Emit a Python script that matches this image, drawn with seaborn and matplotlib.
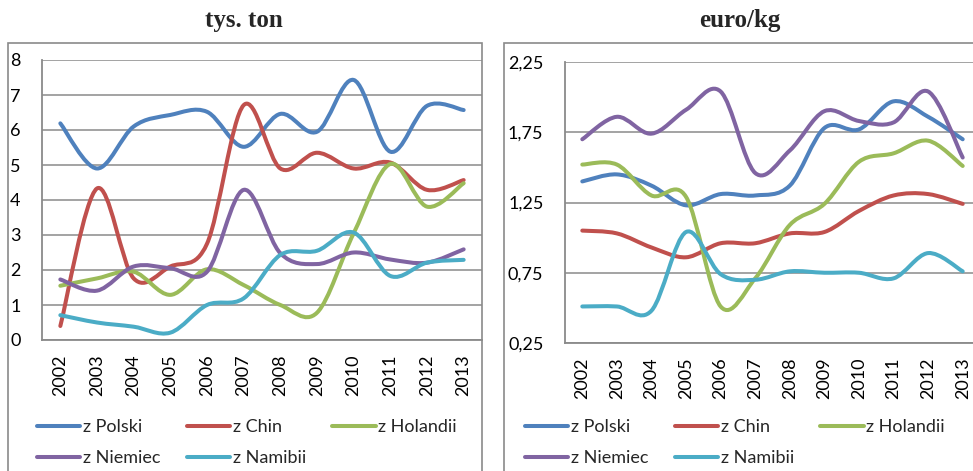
import numpy as np
import pandas as pd
import seaborn as sns
import matplotlib
matplotlib.use("Agg")
import matplotlib.pyplot as plt
from matplotlib.path import Path
from matplotlib.patches import PathPatch, Rectangle
from matplotlib.lines import Line2D

# Data
years = ["2002", "2003", "2004", "2005", "2006", "2007",
         "2008", "2009", "2010", "2011", "2012", "2013"]
series_names = ["z Polski", "z Chin", "z Holandii", "z Niemiec", "z Namibii"]

# left panel: tys. ton
ton_polski = [6.19, 4.90, 6.10, 6.43, 6.52, 5.52, 6.46, 5.95, 7.43, 5.38, 6.69, 6.57]
ton_chin = [0.40, 4.33, 1.76, 2.10, 2.75, 6.71, 4.90, 5.35, 4.90, 5.07, 4.29, 4.57]
ton_holandii = [1.55, 1.76, 1.95, 1.29, 2.02, 1.57, 1.00, 0.78, 3.05, 5.03, 3.81, 4.48]
ton_niemiec = [1.73, 1.41, 2.10, 2.05, 1.95, 4.29, 2.48, 2.17, 2.50, 2.30, 2.21, 2.59]
ton_namibii = [0.71, 0.50, 0.38, 0.21, 1.00, 1.19, 2.43, 2.55, 3.07, 1.83, 2.21, 2.29]

# right panel: euro/kg
eur_polski = [1.40, 1.45, 1.37, 1.23, 1.31, 1.30, 1.37, 1.78, 1.77, 1.97, 1.86, 1.70]
eur_chin = [1.05, 1.03, 0.93, 0.86, 0.96, 0.96, 1.03, 1.04, 1.19, 1.30, 1.31, 1.24]
eur_holandii = [1.52, 1.52, 1.30, 1.29, 0.51, 0.71, 1.09, 1.24, 1.54, 1.60, 1.69, 1.51]
eur_niemiec = [1.70, 1.86, 1.74, 1.91, 2.04, 1.46, 1.62, 1.90, 1.83, 1.82, 2.04, 1.57]
eur_namibii = [0.51, 0.51, 0.48, 1.04, 0.74, 0.70, 0.76, 0.75, 0.75, 0.71, 0.89, 0.76]

ton_ticks = [0, 1, 2, 3, 4, 5, 6, 7, 8]
ton_labels = ["0", "1", "2", "3", "4", "5", "6", "7", "8"]
eur_ticks = [0.25, 0.75, 1.25, 1.75, 2.25]
eur_labels = ["0,25", "0,75", "1,25", "1,75", "2,25"]

ton = pd.DataFrame(dict(zip(series_names, [ton_polski, ton_chin, ton_holandii, ton_niemiec, ton_namibii])), index=years)
eur = pd.DataFrame(dict(zip(series_names, [eur_polski, eur_chin, eur_holandii, eur_niemiec, eur_namibii])), index=years)

sns.set_theme(style="white")
plt.rcParams["font.family"] = ["Lato", "DejaVu Sans"]
colors = sns.color_palette(["#4F81BD", "#C0504D", "#9BBB59", "#8064A2", "#4BACC6"])
GRAY = "#8a8a8a"
LW = 2.9


def smooth_path(y):
    # Excel-like smoothed line: cubic bezier through every point
    x = np.arange(len(y), dtype=float)
    y = np.asarray(y, dtype=float)
    pts = np.column_stack([x, y])
    verts = [pts[0]]
    codes = [Path.MOVETO]
    n = len(pts)
    for i in range(n - 1):
        p_prev = pts[i - 1] if i > 0 else pts[i]
        p_next2 = pts[i + 2] if i + 2 < n else pts[i + 1]
        c1 = pts[i] + (pts[i + 1] - p_prev) / 6
        c2 = pts[i + 1] - (p_next2 - pts[i]) / 6
        verts += [c1, c2, pts[i + 1]]
        codes += [Path.CURVE4] * 3
    return Path(verts, codes)


def draw_panel(ax, df, ticks, labels):
    for name, c in zip(series_names, colors):
        patch = PathPatch(smooth_path(df[name].values), fill=False, ec=c, lw=LW,
                          capstyle="round", joinstyle="round", zorder=3)
        ax.add_patch(patch)
    ax.set_xlim(-0.5, len(years) - 0.5)
    ax.set_ylim(ticks[0], ticks[-1])
    ax.set_xticks(range(len(years)))
    ax.set_xticklabels(years, rotation=90, fontsize=13)
    ax.set_yticks(ticks)
    ax.set_yticklabels(labels, fontsize=13)
    ax.tick_params(axis="y", length=0, pad=15.5, colors="black")
    ax.tick_params(axis="x", length=0, pad=10.5, colors="black")
    ax.yaxis.grid(True, color=GRAY, lw=1.1)
    ax.set_axisbelow(True)
    for s in ["top", "right"]:
        ax.spines[s].set_visible(False)
    for s in ["left", "bottom"]:
        ax.spines[s].set_color(GRAY)
        ax.spines[s].set_linewidth(1.3)


fig = plt.figure(figsize=(9.73, 4.71), dpi=100)
W, H = 973, 471

ax1 = fig.add_axes([42 / W, 1 - 340 / H, 440 / W, 280 / H])
ax2 = fig.add_axes([565 / W, 1 - 343 / H, 415 / W, 281 / H])
draw_panel(ax1, ton, ton_ticks, ton_labels)
draw_panel(ax2, eur, eur_ticks, eur_labels)

# chart frames
fig.patches.append(Rectangle((8 / W, -0.1), 474 / W, 1.1 - 43 / H, transform=fig.transFigure,
                             fill=False, ec=GRAY, lw=1.2))
fig.patches.append(Rectangle((504 / W, -0.1), 0.6, 1.1 - 43 / H, transform=fig.transFigure,
                             fill=False, ec=GRAY, lw=1.2))

# titles
fig.text(244 / W, 1 - 21 / H, "tys. ton", ha="center", va="center", fontsize=18,
         fontweight="bold", family="Liberation Serif")
fig.text(740 / W, 1 - 21 / H, "euro/kg", ha="center", va="center", fontsize=18,
         fontweight="bold", family="Liberation Serif")

# legends (row-wise order like Excel)
handles = [Line2D([], [], color=c, lw=LW, solid_capstyle="round") for c in colors]
order = [0, 3, 1, 4, 2]
for x0 in [37, 525]:
    fig.legend([handles[i] for i in order], [series_names[i] for i in order],
               loc="upper left", bbox_to_anchor=(x0 / W, 1 - 419 / H), ncol=3,
               frameon=False, fontsize=13, handlelength=2.4, handletextpad=0.15,
               columnspacing=1.45, labelspacing=0.85, borderpad=0, borderaxespad=0)

fig.savefig("out.png", dpi=100)
